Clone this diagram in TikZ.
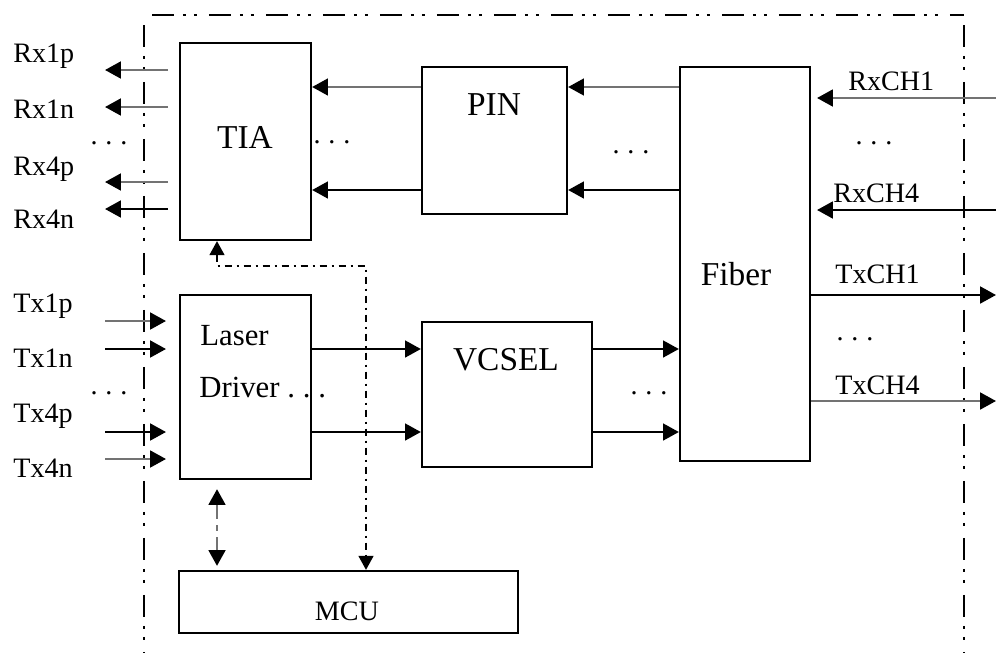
\documentclass[tikz,border=0pt]{standalone}
\usepackage{fontspec}
\setmainfont{Liberation Serif}
\usetikzlibrary{arrows.meta}

\colorlet{wiregray}{black!55}
\tikzset{
  blk/.style={draw, line width=1.3pt, inner sep=0pt},
  lbl/.style={inner sep=0pt, font=\fontsize{16}{19}\selectfont},
  blktxt/.style={inner sep=0pt, font=\fontsize{19}{22}\selectfont},
  sig/.style={line width=1.4pt, -{Triangle[length=9pt,width=9.5pt,color=black]}},
  border/.style={line width=1pt, dash pattern=on 0.44cm off 0.18cm on 0.06cm off 0.16cm on 0.06cm off 0.24cm},
  ctrl/.style={line width=1pt, dash pattern=on 0.14cm off 0.1cm on 0.04cm off 0.1cm,
    {Triangle[length=8pt,width=8.5pt]}-{Triangle[length=8pt,width=8.5pt]}},
  bus/.style={line width=1.6pt, wiregray, dash pattern=on 0.3cm off 0.12cm on 0.12cm off 0.12cm,
    {Triangle[length=9pt,width=9.5pt,color=black]}-{Triangle[length=9pt,width=9.5pt,color=black]}},
}
\newcommand{\dotrow}{.\kern4.5pt.\kern4.5pt.}

\begin{document}
\begin{tikzpicture}[x=0.02cm,y=-0.02cm]
\useasboundingbox (0,0) rectangle (996,653);
% module outline
\draw[border] (152,15) -- (964,15);
\draw[border] (144,25) -- (144,653);
\draw[border] (964,25) -- (964,653);
% blocks
\node[blk, minimum width=2.62cm, minimum height=3.94cm] (TIA) at (245.5,141.5) {};
\node[blk, minimum width=2.9cm, minimum height=2.94cm] (PIN) at (494.5,140.5) {};
\node[blk, minimum width=2.6cm, minimum height=7.88cm] (Fiber) at (745,264) {};
\node[blk, minimum width=2.62cm, minimum height=3.68cm] (LD) at (245.5,387) {};
\node[blk, minimum width=3.4cm, minimum height=2.9cm] (VCSEL) at (507,394.5) {};
\node[blk, minimum width=6.78cm, minimum height=1.24cm] (MCU) at (348.5,602) {};
\node[blktxt, anchor=base] (tTIA) at (245,148) {TIA};
\node[blktxt, anchor=base] (tPIN) at (494,115) {PIN};
\node[blktxt, anchor=base] (tFiber) at (736,285) {Fiber};
\node[blktxt, anchor=base] (tVCSEL) at (506,370) {VCSEL};
\node[lbl, anchor=base] (tMCU) at (347,620) {MCU};
\node[lbl, font=\fontsize{17.5}{20}\selectfont, anchor=base west] (tLaser) at (200,345) {Laser};
\node[lbl, font=\fontsize{17.5}{20}\selectfont, anchor=base west] (tDriver) at (199,397) {Driver \dotrow};
% dots
\node[lbl] (dRx) at (109,143) {\dotrow};
\node[lbl] (dTx) at (109,393) {\dotrow};
\node[lbl] (dTP) at (332,142) {\dotrow};
\node[lbl] (dPF) at (631,152) {\dotrow};
\node[lbl] (dVF) at (649,393) {\dotrow};
\node[lbl] (dRxCH) at (874,143) {\dotrow};
\node[lbl] (dTxCH) at (855,339) {\dotrow};
% free ends
\coordinate (rxS) at (168,0);
\coordinate (rxE) at (105,0);
\coordinate (txE) at (166,0);
\coordinate (edgeR) at (996,0);
\coordinate (fibR) at (817,0);
\coordinate (cx) at (217,0);
\coordinate (mx) at (366,0);
% receive path
\draw[sig, wiregray] (PIN.west |- 0,87) -- (TIA.east |- 0,87);
\draw[sig] (PIN.west |- 0,190) -- (TIA.east |- 0,190);
\draw[sig, wiregray] (Fiber.west |- 0,87) -- (PIN.east |- 0,87);
\draw[sig] (Fiber.west |- 0,190) -- (PIN.east |- 0,190);
% transmit path
\draw[sig] (LD.east |- 0,349) -- (VCSEL.west |- 0,349);
\draw[sig] (LD.east |- 0,432) -- (VCSEL.west |- 0,432);
\draw[sig] (VCSEL.east |- 0,349) -- (Fiber.west |- 0,349);
\draw[sig] (VCSEL.east |- 0,432) -- (Fiber.west |- 0,432);
% electrical side
\foreach \nm/\by/\ay/\c in {Rx1p/62/70/wiregray, Rx1n/118/107/wiregray, Rx4p/175/182/wiregray, Rx4n/228/209/black}{
  \node[lbl, anchor=base west] (\nm) at (13,\by) {\nm};
  \draw[sig, \c] (rxS |- 0,\ay) -- (rxE |- 0,\ay);
}
\foreach \nm/\by/\ay/\c in {Tx1p/312/321/wiregray, Tx1n/367/349/black, Tx4p/422/432/black, Tx4n/477/459/wiregray}{
  \node[lbl, anchor=base west] (\nm) at (13,\by) {\nm};
  \draw[sig, \c] (rxE |- 0,\ay) -- (txE |- 0,\ay);
}
% optical side
\foreach \nm/\lx/\by/\ay/\c in {RxCH1/848/90/98/wiregray, RxCH4/833/202/210/black}{
  \node[lbl, anchor=base west] (\nm) at (\lx,\by) {\nm};
  \draw[sig, \c] (edgeR |- 0,\ay) -- (fibR |- 0,\ay);
}
\foreach \nm/\lx/\by/\ay/\c in {TxCH1/835/283/295/black, TxCH4/835/394/401/wiregray}{
  \node[lbl, anchor=base west] (\nm) at (\lx,\by) {\nm};
  \draw[sig, \c] (Fiber.east |- 0,\ay) -- (edgeR |- 0,\ay);
}
% control
\draw[ctrl] (TIA.south -| cx) -- ++(0,25) -| (MCU.north -| mx);
\draw[bus, shorten <=0.18cm, shorten >=0.08cm] (LD.south -| cx) -- (MCU.north -| cx);
\end{tikzpicture}
\end{document}
